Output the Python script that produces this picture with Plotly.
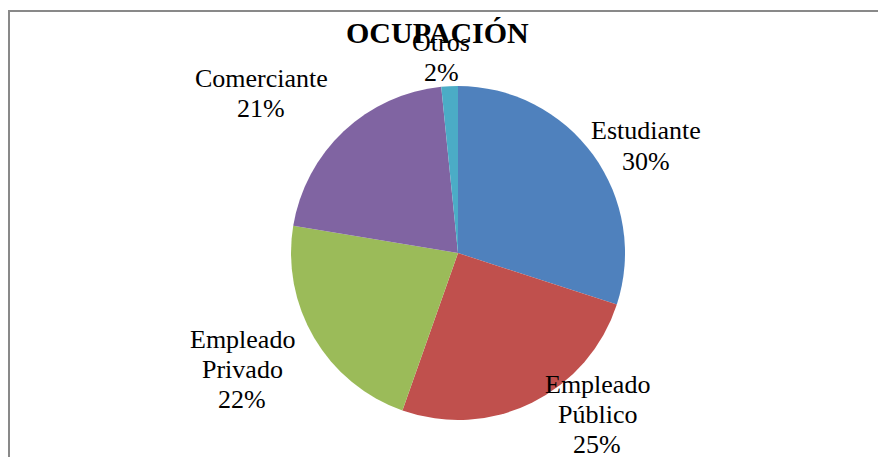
import plotly.graph_objects as go

categories = ["Estudiante", "Empleado<br>Público", "Empleado<br>Privado", "Comerciante", "Otros"]
values = [30.0, 25.4, 22.2, 20.8, 1.6]
colors = ["#4F81BD", "#C0504D", "#9BBB59", "#8064A2", "#4BACC6"]

W, H = 886, 457
OFF = 8  # page body margin
# label block centres in window pixels (layout, not data)
label_px = [(646, 146), (597, 414), (242, 369), (261, 93), (441, 58)]
LINE = 30  # line pitch in px

cx, cy, r = 458 - OFF, 253 - OFF, 167
FONT = "Liberation Serif, Times New Roman, serif"

fig = go.Figure(go.Pie(
    labels=categories,
    values=values,
    sort=False,
    direction="clockwise",
    rotation=0,
    marker=dict(colors=colors, line=dict(width=0)),
    textinfo="none",
    hoverinfo="label+percent",
    domain=dict(x=[(cx - r) / W, (cx + r) / W], y=[1 - (cy + r) / H, 1 - (cy - r) / H]),
    showlegend=False,
))

total = sum(values)
for cat, v, (px, py) in zip(categories, values, label_px):
    pct = round(100 * v / total)
    lines = cat.split("<br>") + [f"{pct}%"]
    n = len(lines)
    for i, ln in enumerate(lines):
        ly = py + (i - (n - 1) / 2) * LINE
        fig.add_annotation(
            x=(px - OFF) / W, y=1 - (ly - OFF) / H, xref="paper", yref="paper",
            text=ln, showarrow=False,
            xanchor="center", yanchor="middle", align="center",
            font=dict(family=FONT, size=26, color="#000000"),
        )

fig.add_annotation(
    x=(437 - OFF) / W, y=1 - (33 - OFF) / H, xref="paper", yref="paper",
    text="<b>OCUPACIÓN</b>", showarrow=False, xanchor="center", yanchor="middle",
    font=dict(family=FONT, size=30, color="#000000"),
)

fig.add_shape(type="rect", xref="paper", yref="paper",
              x0=(9 - OFF) / W, x1=1.2, y0=-0.2, y1=1 - (11 - OFF) / H,
              line=dict(color="#898989", width=2), fillcolor="rgba(0,0,0,0)")

fig.update_layout(
    width=W, height=H,
    margin=dict(l=0, r=0, t=0, b=0),
    paper_bgcolor="white", plot_bgcolor="white",
)

fig.write_html("out.html")
